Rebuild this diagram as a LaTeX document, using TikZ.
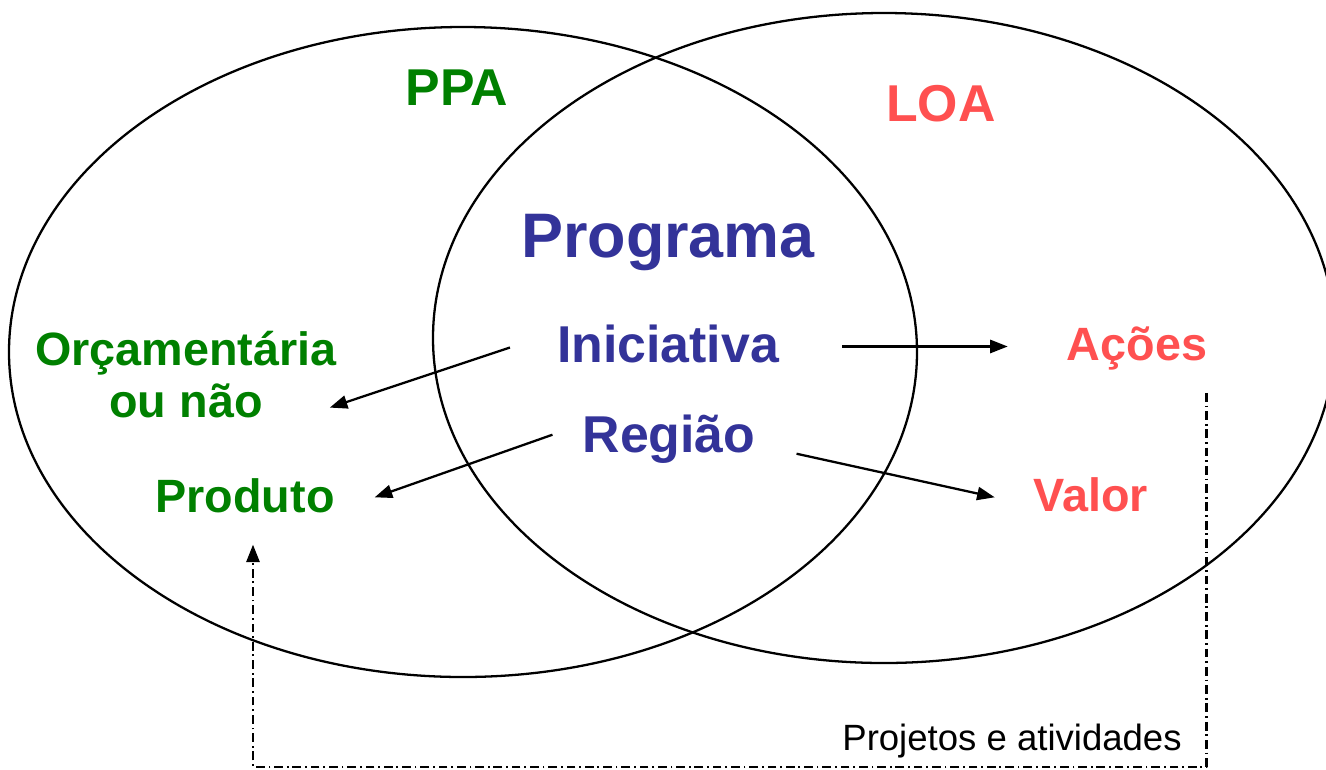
\documentclass[tikz,border=0pt]{standalone}
\usepackage{fontspec}
\setmainfont{Liberation Sans}
\usetikzlibrary{arrows.meta}
\definecolor{ppagreen}{RGB}{0,128,0}
\definecolor{progblue}{RGB}{51,51,153}
\definecolor{loared}{RGB}{255,80,80}
\begin{document}
\begin{tikzpicture}[x=0.02cm, y=-0.02cm, line join=round, line width=1.3pt,
  >={Stealth[length=10pt,width=7.5pt,inset=0pt]},
  txt/.style={inner sep=0pt, anchor=base, font=\bfseries\fontsize{26.6}{29.5}\selectfont},
  big/.style={txt, font=\bfseries\fontsize{29.5}{34}\selectfont},
  dashdot/.style={line width=1.4pt, dash pattern=on 5pt off 2.2pt on 1pt off 2.2pt}]
\useasboundingbox (0,0) rectangle (1326,769);
\clip (0,0) rectangle (1326,769);
\draw (463,352) ellipse [x radius=454, y radius=325];
\draw (884,338) ellipse [x radius=451, y radius=325];
\node[big, ppagreen] (ppa) at (457,105) {PPA};
\node[big, loared] (loa) at (941,121) {LOA};
\node[txt, progblue, font=\bfseries\fontsize{35.8}{40}\selectfont] (prog) at (668,257) {Programa};
\node[big, progblue] (inic) at (668,362) {Iniciativa};
\node[big, progblue] (regiao) at (669,452) {Região};
\node[txt, ppagreen, align=center] (orcam) at (186,417) {Orçamentária\\ou não};
\node[txt, ppagreen] (produto) at (245,512) {Produto};
\node[txt, loared] (acoes) at (1137,360) {Ações};
\node[txt, loared] (valor) at (1091,511) {Valor};
\node[inner sep=0pt, anchor=base, font=\fontsize{20.8}{24}\selectfont] (proj) at (1012,750) {Projetos e atividades};
\draw[->] ([shift={(-46,4)}]inic.west) -- ([shift={(-8,-11)}]orcam.south east);
\draw[->] ([shift={(62,3)}]inic.east) -- ([shift={(-58,3)}]inic.east -| acoes.west);
\draw[->] ([shift={(-29,-4)}]regiao.west) -- ([shift={(39,2)}]produto.east);
\draw[->] ([shift={(40,15)}]regiao.east) -- ([shift={(-38,3)}]valor.west);
\draw[->, dashdot] ([shift={(-2,22)}]acoes.south east) -- ++(0,374) -| ([shift={(8,31)}]produto.south);
\end{tikzpicture}
\end{document}
